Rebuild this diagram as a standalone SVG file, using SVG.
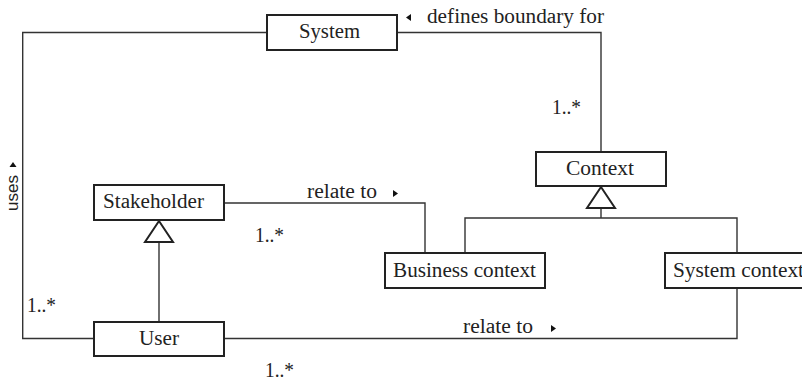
<svg xmlns="http://www.w3.org/2000/svg" width="802" height="381" viewBox="0 0 802 381">
  <style>
    .box { fill: #fff; stroke: #222; stroke-width: 2; }
    .lbl { font-family: 'Liberation Serif', 'DejaVu Serif', 'Noto Serif', serif; font-size: 20px; fill: #222; }
    .edge { fill: none; stroke: #333; stroke-width: 1.4; }
    .gen { fill: #fff; stroke: #222; stroke-width: 2; stroke-linejoin: miter; }
    .dir { fill: #111; }
  </style>
  <rect width="802" height="381" fill="#fff"/>

  <g id="connectors">
    <!-- System uses / User -->
    <polyline class="edge" points="267,32.5 22.7,32.5 22.7,338.5 94,338.5"/>
    <!-- System defines boundary for Context -->
    <polyline class="edge" points="397,32.5 601,32.5 601,152"/>
    <!-- Stakeholder relate to Business context -->
    <polyline class="edge" points="224,203 425,203 425,253"/>
    <!-- User relate to System context -->
    <polyline class="edge" points="224,338.5 737,338.5 737,288"/>
    <!-- Context generalization -->
    <polyline class="edge" points="601,208 601,218"/>
    <polyline class="edge" points="465,253 465,218 737,218 737,253"/>
    <polygon class="gen" points="601,187 587,208 615,208"/>
    <!-- Stakeholder generalization -->
    <line class="edge" x1="159" y1="242" x2="159" y2="322"/>
    <polygon class="gen" points="159,221 145,242 173,242"/>

    <!-- reading direction markers -->
    <polygon class="dir" points="406,17.5 411,14 411,21"/>
    <polygon class="dir" points="398,193.5 393,190 393,197"/>
    <polygon class="dir" points="556,328.5 551,325 551,332"/>
    <polygon class="dir" points="13,162 9.5,167 16.5,167"/>

    <!-- association labels -->
    <text class="lbl" x="427" y="23" textLength="177" lengthAdjust="spacingAndGlyphs">defines boundary for</text>
    <text class="lbl" x="307" y="198" textLength="70" lengthAdjust="spacingAndGlyphs">relate to</text>
    <text class="lbl" x="463" y="333" textLength="70" lengthAdjust="spacingAndGlyphs">relate to</text>
    <text x="18" y="193" transform="rotate(-90 18 193)" text-anchor="middle" font-family="Liberation Sans, Arial, sans-serif" font-size="17" fill="#222">uses</text>

    <!-- multiplicities -->
    <text class="lbl" x="552" y="114" textLength="29" lengthAdjust="spacingAndGlyphs">1..*</text>
    <text class="lbl" x="255" y="242" textLength="29" lengthAdjust="spacingAndGlyphs">1..*</text>
    <text class="lbl" x="27" y="312" textLength="29" lengthAdjust="spacingAndGlyphs">1..*</text>
    <text class="lbl" x="265" y="377" textLength="29" lengthAdjust="spacingAndGlyphs">1..*</text>
  </g>

  <g id="system">
    <rect class="box" x="267" y="15" width="130" height="35"/>
    <text class="lbl" x="299" y="38" textLength="61" lengthAdjust="spacingAndGlyphs">System</text>
  </g>
  <g id="context">
    <rect class="box" x="536" y="152" width="130" height="34"/>
    <text class="lbl" x="566" y="175" textLength="68" lengthAdjust="spacingAndGlyphs">Context</text>
  </g>
  <g id="stakeholder">
    <rect class="box" x="94" y="185" width="130" height="35"/>
    <text class="lbl" x="103" y="208" textLength="101" lengthAdjust="spacingAndGlyphs">Stakeholder</text>
  </g>
  <g id="business-context">
    <rect class="box" x="385" y="253" width="160" height="35"/>
    <text class="lbl" x="393" y="277" textLength="143" lengthAdjust="spacingAndGlyphs">Business context</text>
  </g>
  <g id="system-context">
    <rect class="box" x="665" y="253" width="150" height="35"/>
    <text class="lbl" x="673" y="277" textLength="131" lengthAdjust="spacingAndGlyphs">System context</text>
  </g>
  <g id="user">
    <rect class="box" x="94" y="322" width="130" height="34"/>
    <text class="lbl" x="139" y="345" textLength="40" lengthAdjust="spacingAndGlyphs">User</text>
  </g>
</svg>
